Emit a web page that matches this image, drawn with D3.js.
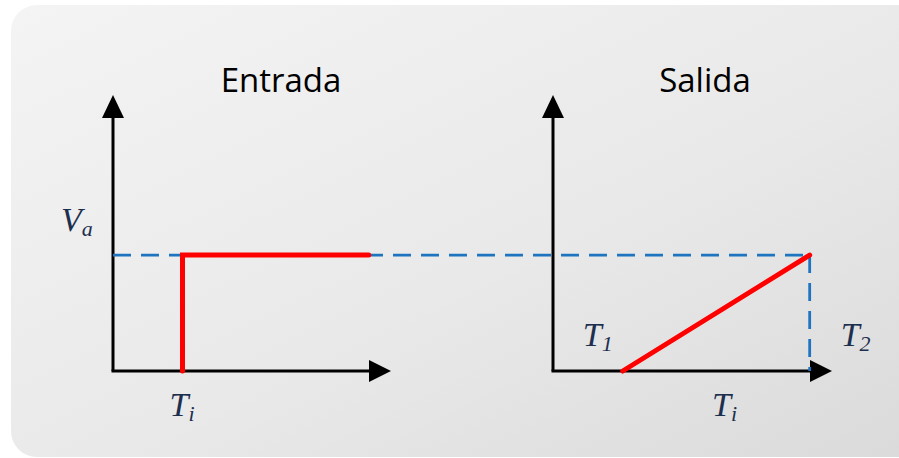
<!DOCTYPE html>
<html>
<head>
<meta charset="utf-8">
<script src="https://cdn.jsdelivr.net/npm/d3@7"></script>
<style>
  html, body { margin: 0; padding: 0; background: #ffffff; }
  svg { display: block; }
</style>
</head>
<body>
<div id="visualization"></div>
<script>
// abstract units: time 0..100 along each x axis, voltage 0..100 up the y axis
var titles = ["Entrada", "Salida"];
var inputT = [25, 25, 92];     // step: rises at Ti and holds
var inputV = [0, 42, 42];
var outputT = [25, 92];        // ramp from T1 to T2
var outputV = [0, 42];
var vaLevel = 42;
var tiMark = 25;
var t2Mark = 92;

var width = 899, height = 458;

var svg = d3.select("#visualization").append("svg")
    .attr("width", width)
    .attr("height", height);

var defs = svg.append("defs");
var grad = defs.append("linearGradient")
    .attr("id", "bg")
    .attr("x1", "0").attr("y1", "0")
    .attr("x2", "1").attr("y2", "1");
grad.append("stop").attr("offset", "0%").attr("stop-color", "#f4f4f4");
grad.append("stop").attr("offset", "55%").attr("stop-color", "#e9e9e9");
grad.append("stop").attr("offset", "100%").attr("stop-color", "#dadada");

// background panel
svg.append("rect")
    .attr("x", 11).attr("y", 5)
    .attr("width", 920).attr("height", 452)
    .attr("rx", 26).attr("ry", 26)
    .attr("fill", "url(#bg)");

// scales for the two panels
var yScale = d3.scaleLinear().domain([0, 100]).range([371, 95]);
var xLeft = d3.scaleLinear().domain([0, 100]).range([113, 391]);
var xRight = d3.scaleLinear().domain([0, 100]).range([553, 832]);

var mathColor = "#1d2f4f";
var serif = "'Liberation Serif', 'DejaVu Serif', serif";

function drawAxes(x) {
    var ox = x(0), oy = yScale(0);
    var yTop = yScale(100), xEnd = x(100);
    var g = svg.append("g").attr("class", "axes");
    g.append("line")
        .attr("x1", ox).attr("y1", oy)
        .attr("x2", ox).attr("y2", yTop + 20)
        .attr("stroke", "#000").attr("stroke-width", 3);
    g.append("line")
        .attr("x1", ox - 1.5).attr("y1", oy)
        .attr("x2", xEnd - 20).attr("y2", oy)
        .attr("stroke", "#000").attr("stroke-width", 3);
    // arrow heads
    g.append("path")
        .attr("d", "M" + ox + "," + yTop + " L" + (ox + 11) + "," + (yTop + 23) + " L" + (ox - 11) + "," + (yTop + 23) + " Z")
        .attr("fill", "#000");
    g.append("path")
        .attr("d", "M" + xEnd + "," + oy + " L" + (xEnd - 22) + "," + (oy - 11) + " L" + (xEnd - 22) + "," + (oy + 11) + " Z")
        .attr("fill", "#000");
}

drawAxes(xLeft);
drawAxes(xRight);

// dashed reference lines
var dash = "18,10";
svg.append("line")
    .attr("x1", xLeft(0)).attr("y1", yScale(vaLevel))
    .attr("x2", xRight(t2Mark)).attr("y2", yScale(vaLevel))
    .attr("stroke", "#1f74c0").attr("stroke-width", 2.8)
    .attr("stroke-dasharray", dash);
svg.append("line")
    .attr("x1", xRight(t2Mark)).attr("y1", yScale(vaLevel))
    .attr("x2", xRight(t2Mark)).attr("y2", yScale(0))
    .attr("stroke", "#1f74c0").attr("stroke-width", 2.8)
    .attr("stroke-dasharray", dash);

// signals
var inputData = inputT.map(function(t, i) { return {t: t, v: inputV[i]}; });
var outputData = outputT.map(function(t, i) { return {t: t, v: outputV[i]}; });

svg.append("path")
    .datum(inputData)
    .attr("d", d3.line().x(function(d) { return xLeft(d.t); }).y(function(d) { return yScale(d.v); }))
    .attr("fill", "none")
    .attr("stroke", "#ff0000")
    .attr("stroke-width", 5)
    .attr("stroke-linecap", "round");

svg.append("path")
    .datum(outputData)
    .attr("d", d3.line().x(function(d) { return xRight(d.t); }).y(function(d) { return yScale(d.v); }))
    .attr("fill", "none")
    .attr("stroke", "#ff0000")
    .attr("stroke-width", 5)
    .attr("stroke-linecap", "round");

// titles
svg.selectAll(".title")
    .data(titles)
    .enter().append("text")
    .attr("class", "title")
    .attr("x", function(d, i) { return i === 0 ? 281 : 705; })
    .attr("y", 92)
    .attr("text-anchor", "middle")
    .attr("font-family", "'Open Sans', 'Noto Sans', sans-serif")
    .attr("font-size", 33)
    .attr("fill", "#000")
    .text(function(d) { return d; });

// math labels: main letter + subscript
function mathLabel(x, y, main, sub) {
    var t = svg.append("text")
        .attr("x", x).attr("y", y)
        .attr("font-family", serif)
        .attr("font-style", "italic")
        .attr("font-size", 34)
        .attr("fill", mathColor);
    t.append("tspan").text(main);
    t.append("tspan")
        .attr("font-size", 22)
        .attr("dy", 5)
        .text(sub);
}

mathLabel(61, 231, "V", "a");
mathLabel(xLeft(tiMark) - 13, 416, "T", "i");
mathLabel(xRight(tiMark) - 40, 346, "T", "1");
mathLabel(xRight(t2Mark) + 31, 346, "T", "2");
mathLabel(712, 416, "T", "i");
</script>
</body>
</html>
